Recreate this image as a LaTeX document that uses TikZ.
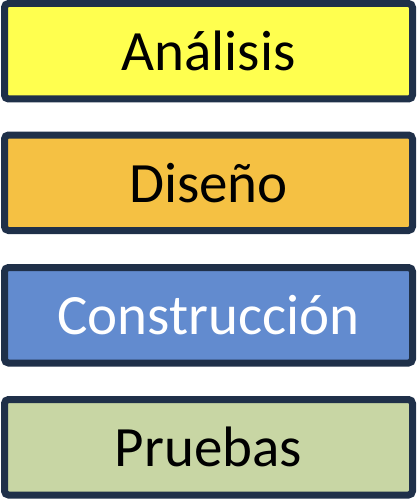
\documentclass[tikz,border=0pt]{standalone}
\usepackage{fontspec}
\setmainfont{Carlito}
\definecolor{bordc}{HTML}{1F3049}
\definecolor{yel}{HTML}{FFFF4F}
\definecolor{ora}{HTML}{F5C143}
\definecolor{blu}{HTML}{628BCF}
\definecolor{gre}{HTML}{C8D6A4}
\tikzset{
  stage/.style={draw=bordc, line width=7pt, rounded corners=4pt, minimum width=408pt, minimum height=95.5pt, inner sep=0pt, outer sep=0pt, anchor=north west},
  lbl/.style={font=\fontsize{57}{60}\selectfont}
}
\begin{document}
\begin{tikzpicture}[x=1pt,y=-1pt]
\useasboundingbox (0,0) rectangle (416,500);
\node[stage, fill=yel] (a) at (4.5,3.5) {};
\node[lbl] (ta) at (a.center) {Análisis};
\node[stage, fill=ora] (d) at (4.5,135) {};
\node[lbl] (td) at (d.center) {Diseño};
\node[stage, fill=blu] (c) at (4.5,267.5) {};
\node[lbl, text=white] (tc) at (c.center) {Construcción};
\node[stage, fill=gre] (p) at (4.5,399.5) {};
\node[lbl] (tp) at (p.center) {Pruebas};
\end{tikzpicture}
\end{document}
